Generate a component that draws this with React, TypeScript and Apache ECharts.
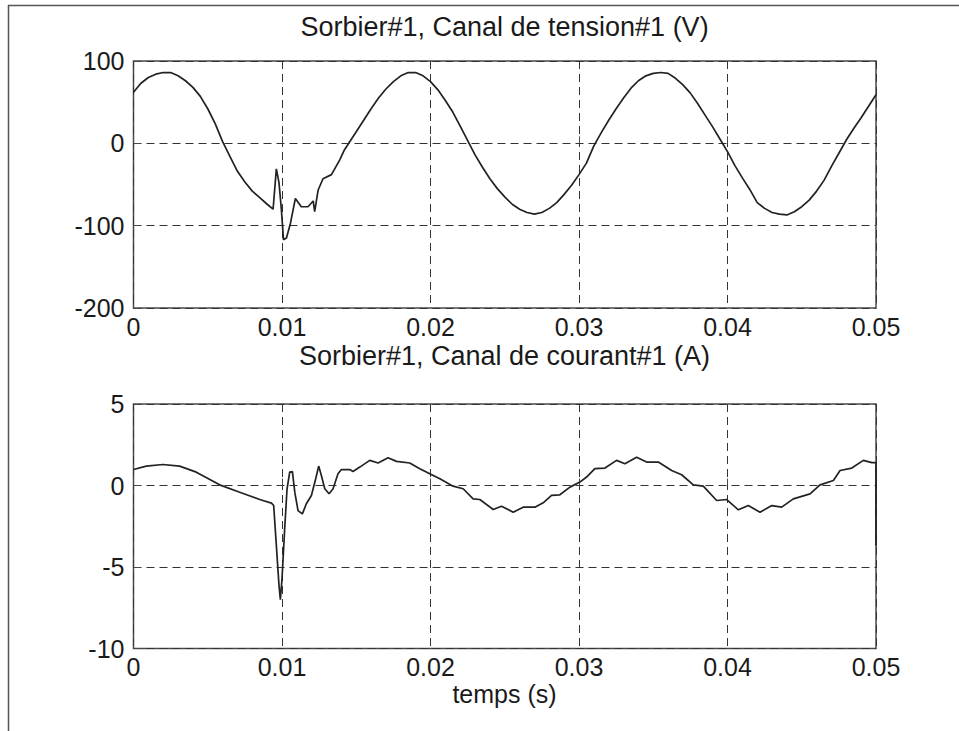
import React, { useEffect, useRef } from "react";
import * as echarts from "echarts";

// Voltage channel (V) — time (s) and value
const tensionT = [
  0, 0.0005, 0.001, 0.0015, 0.002, 0.0025, 0.003, 0.0035, 0.004, 0.0045,
  0.005, 0.0055, 0.006, 0.0065, 0.007, 0.0075, 0.008, 0.0085, 0.009, 0.0094,
  0.00962, 0.0098, 0.00996, 0.0101, 0.0103, 0.01057, 0.0109, 0.0113, 0.01175, 0.0121,
  0.0122, 0.01243, 0.01276, 0.01333, 0.01389, 0.0142, 0.01456, 0.015, 0.0155, 0.016,
  0.0165, 0.017, 0.0175, 0.018, 0.0185, 0.019, 0.0195, 0.02, 0.0205, 0.021,
  0.0215, 0.022, 0.0226, 0.023, 0.0235, 0.024, 0.0245, 0.025, 0.0255, 0.026,
  0.0265, 0.027, 0.0275, 0.028, 0.0285, 0.029, 0.0295, 0.03, 0.0305, 0.031,
  0.0315, 0.032, 0.0325, 0.033, 0.0335, 0.034, 0.0345, 0.035, 0.0355, 0.036,
  0.0365, 0.037, 0.0375, 0.038, 0.0385, 0.039, 0.0395, 0.04, 0.0405, 0.041,
  0.0415, 0.042, 0.0425, 0.043, 0.0435, 0.044, 0.0445, 0.045, 0.0455, 0.046,
  0.0465, 0.047, 0.0475, 0.048, 0.0485, 0.049, 0.0495, 0.05,
];
const tensionV = [
  62, 73, 80, 84, 86, 86, 82, 76, 68, 57,
  42, 24, 2, -16, -34, -47, -58, -66, -74, -80,
  -31, -48, -81, -117, -115, -97, -67, -77, -77, -70,
  -83, -57, -43, -38, -20, -8, 2, 14, 28, 42,
  55, 66, 75, 82, 86, 86, 82, 75, 65, 52,
  38, 21, 0, -14, -29, -43, -55, -65, -74, -80,
  -84, -86, -84, -79, -72, -62, -51, -38, -24, -3,
  13, 28, 42, 55, 67, 76, 82, 85, 86, 85,
  79, 71, 61, 48, 34, 20, 5, -10, -27, -42,
  -56, -72, -79, -84, -86, -87, -83, -77, -69, -58,
  -45, -28, -12, 4, 18, 31, 45, 59,
];

// Current channel (A) — time (s) and value
const courantT = [
  0, 0.00086, 0.00198, 0.0031, 0.00423, 0.0058, 0.00715, 0.0085, 0.00929, 0.00944,
  0.00962, 0.0098, 0.00989, 0.01, 0.01018, 0.01034, 0.01052, 0.0107, 0.01086, 0.01108,
  0.01137, 0.01164, 0.01198, 0.01227, 0.01247, 0.01265, 0.01288, 0.01317, 0.01344, 0.01377,
  0.014, 0.01456, 0.01478, 0.01524, 0.01591, 0.01647, 0.01714, 0.01771, 0.0186, 0.01928,
  0.01995, 0.02063, 0.02152, 0.0222, 0.02287, 0.02332, 0.02422, 0.02478, 0.02557, 0.02624,
  0.02703, 0.02759, 0.02815, 0.02871, 0.02939, 0.03006, 0.03051, 0.03107, 0.03175, 0.03253,
  0.03309, 0.03388, 0.03455, 0.03534, 0.03624, 0.03691, 0.0377, 0.03837, 0.03927, 0.03995,
  0.04073, 0.0414, 0.04219, 0.04298, 0.04365, 0.04443, 0.04556, 0.04623, 0.04713, 0.04758,
  0.04837, 0.04915, 0.04972, 0.05, 0.05,
];
const courantV = [
  0.98, 1.19, 1.29, 1.19, 0.82, 0.04, -0.41, -0.86, -1.08, -1.23,
  -3.69, -6.15, -7.0, -5.73, -2.66, -0.2, 0.82, 0.86, -0.41, -1.54,
  -1.74, -1.12, -0.61, 0.41, 1.19, 0.61, -0.2, -0.51, -0.2, 0.72,
  0.98, 0.98, 0.86, 1.13, 1.54, 1.38, 1.7, 1.48, 1.38, 1.03,
  0.72, 0.41, -0.04, -0.2, -0.82, -0.86, -1.47, -1.27, -1.64, -1.33,
  -1.33, -1.06, -0.61, -0.57, -0.1, 0.21, 0.52, 1.03, 1.07, 1.54,
  1.33, 1.74, 1.44, 1.44, 0.92, 0.66, 0.04, -0.04, -0.92, -0.86,
  -1.49, -1.23, -1.64, -1.23, -1.33, -0.82, -0.51, 0.04, 0.31, 0.92,
  1.07, 1.54, 1.4, 1.4, -3.69,
];

const timeTicks = [0, 0.01, 0.02, 0.03, 0.04, 0.05];
const titles = [
  "Sorbier#1, Canal de tension#1 (V)",
  "Sorbier#1, Canal de courant#1 (A)",
];
const xAxisName = "temps (s)";

const FONT = "'Liberation Sans', Arial, Helvetica, sans-serif";
const TEXT = "#1a1a1a";
const AXIS = "#4a4a4a";

function xAxisCfg(gridIndex: number) {
  return {
    type: "value",
    gridIndex,
    min: timeTicks[0],
    max: timeTicks[timeTicks.length - 1],
    interval: 0.01,
    axisLine: { show: false },
    axisTick: { show: true, inside: true, length: 7, lineStyle: { color: AXIS, width: 1 } },
    axisLabel: {
      fontSize: 25,
      fontFamily: FONT,
      color: TEXT,
      margin: 6,
      formatter: (v: number) => (v === 0 ? "0" : v.toFixed(2)),
    },
    splitLine: { show: true, lineStyle: { type: [8, 5], color: "#333", width: 1 } },
  };
}

function yAxisCfg(gridIndex: number, min: number, max: number, interval: number) {
  return {
    type: "value",
    gridIndex,
    min,
    max,
    interval,
    axisLine: { show: false },
    axisTick: { show: true, inside: true, length: 7, lineStyle: { color: AXIS, width: 1 } },
    axisLabel: {
      fontSize: 25,
      fontFamily: FONT,
      color: TEXT,
      margin: 9,
      padding: [0, 0, 10, 0],
    },
    splitLine: { show: true, lineStyle: { type: [8, 5], color: "#333", width: 1 } },
  };
}

export default function App() {
  const ref = useRef<HTMLDivElement>(null);
  useEffect(() => {
    if (!ref.current) return;
    const chart = echarts.init(ref.current, undefined, { renderer: "svg" });
    const vData = tensionT.map((t, i) => [t, tensionV[i]]);
    const iData = courantT.map((t, i) => [t, courantV[i]]);
    const cx = 504.5;
    chart.setOption({
      animation: false,
      backgroundColor: "#ffffff",
      grid: [
        { left: 133.5, top: 61, width: 742.5, height: 247, show: true, borderColor: AXIS, borderWidth: 1.5, backgroundColor: "transparent" },
        { left: 133.5, top: 404, width: 742.5, height: 244.5, show: true, borderColor: AXIS, borderWidth: 1.5, backgroundColor: "transparent" },
      ],
      xAxis: [xAxisCfg(0), xAxisCfg(1)],
      yAxis: [yAxisCfg(0, -200, 100, 100), yAxisCfg(1, -10, 5, 5)],
      series: [
        {
          type: "line",
          xAxisIndex: 0,
          yAxisIndex: 0,
          data: vData,
          showSymbol: false,
          lineStyle: { color: "#222", width: 1.7 },
          z: 5,
        },
        {
          type: "line",
          xAxisIndex: 1,
          yAxisIndex: 1,
          data: iData,
          showSymbol: false,
          lineStyle: { color: "#222", width: 1.7 },
          z: 5,
        },
      ],
      graphic: [
        { type: "line", shape: { x1: 8, y1: 5.5, x2: 959, y2: 5.5 }, style: { stroke: "#555", lineWidth: 1.5 } },
        { type: "line", shape: { x1: 8.5, y1: 5, x2: 8.5, y2: 731 }, style: { stroke: "#555", lineWidth: 1.5 } },
        {
          type: "text",
          x: cx,
          y: 27,
          style: { text: titles[0], fontSize: 27, fontFamily: FONT, fill: TEXT, align: "center", verticalAlign: "middle" },
        },
        {
          type: "text",
          x: cx,
          y: 356,
          style: { text: titles[1], fontSize: 27, fontFamily: FONT, fill: TEXT, align: "center", verticalAlign: "middle" },
        },
        {
          type: "text",
          x: cx,
          y: 694,
          style: { text: xAxisName, fontSize: 25, fontFamily: FONT, fill: TEXT, align: "center", verticalAlign: "middle" },
        },
      ],
    });
    return () => chart.dispose();
  }, []);
  return (
    <div
      ref={ref}
      style={{ position: "fixed", left: 0, top: 0, width: 959, height: 731, background: "#fff" }}
    />
  );
}
